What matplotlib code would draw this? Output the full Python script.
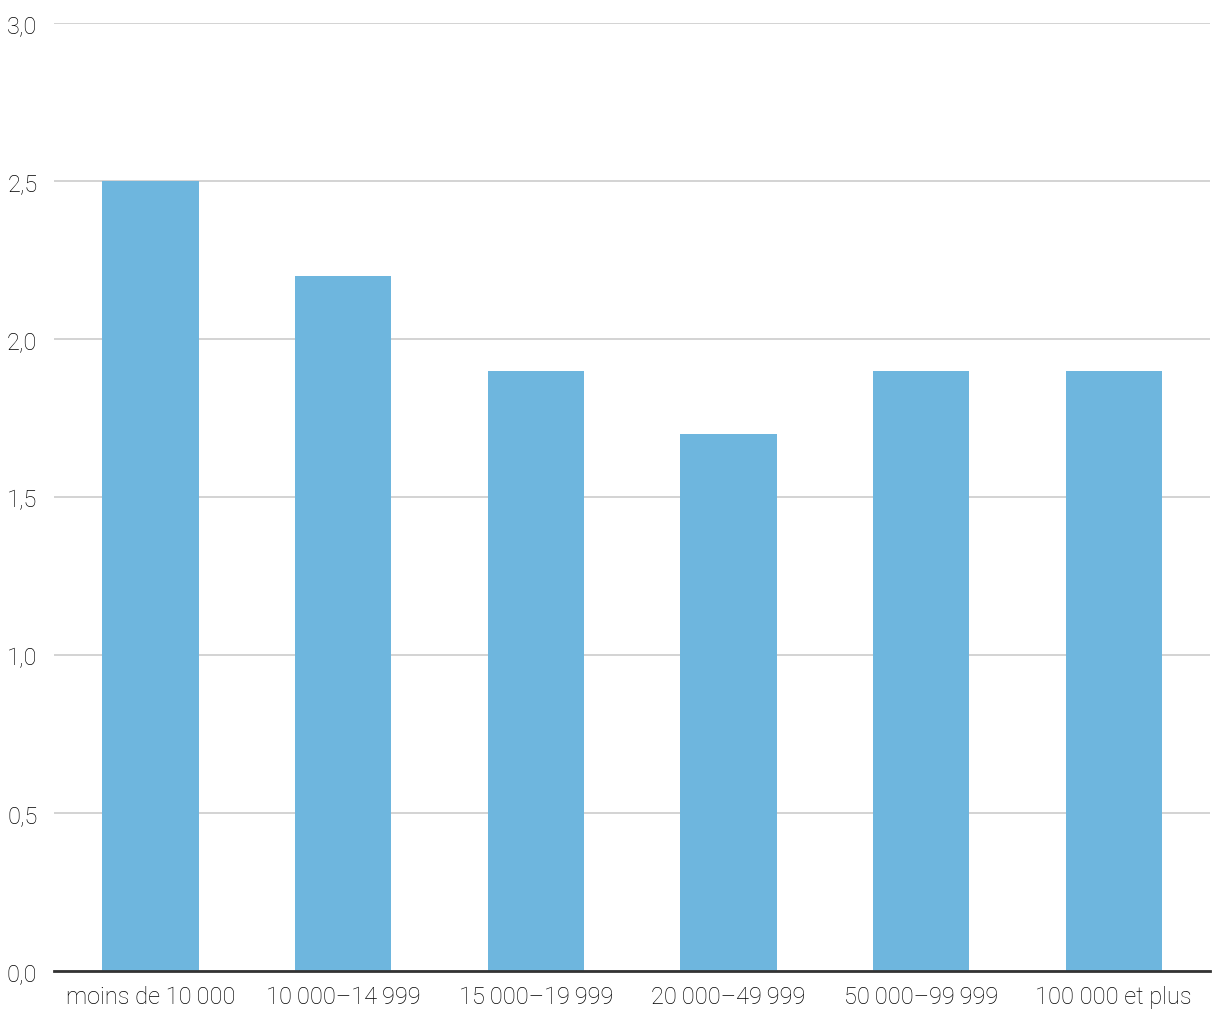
import matplotlib.pyplot as plt
from matplotlib.ticker import FuncFormatter

# categories and values
categories = ['moins de 10\u2009000', '10\u2009000\u201314\u2009999', '15\u2009000\u201319\u2009999',
              '20\u2009000\u201349\u2009999', '50\u2009000\u201399\u2009999', '100 000 et plus']
values = [2.5, 2.2, 1.9, 1.7, 1.9, 1.9]
y_ticks = [0, 0.5, 1.0, 1.5, 2.0, 2.5, 3.0]

plt.rcParams['font.family'] = ['Roboto', 'DejaVu Sans']
plt.rcParams['font.weight'] = 'light'

fig = plt.figure(figsize=(12.2, 10.2), dpi=100)
ax = fig.add_axes([0.0443, 0.0471, 0.9475, 0.9294])

x = range(len(categories))
ax.bar(x, values, width=0.5, color='#6eb6de', zorder=2)

ax.set_xlim(-0.5, len(categories) - 0.5)
ax.set_ylim(0, 3.0)
ax.set_yticks(y_ticks)
ax.yaxis.set_major_formatter(FuncFormatter(lambda v, p: f'{v:.1f}'.replace('.', ',')))
ax.set_xticks(list(x))
ax.set_xticklabels(categories)

ax.grid(axis='y', color='#cccccc', linewidth=1.2, zorder=0)
for s in ['top', 'right', 'left']:
    ax.spines[s].set_visible(False)
ax.spines['bottom'].set_color('#333333')
ax.spines['bottom'].set_linewidth(2)
ax.spines['bottom'].set_zorder(3)

ax.tick_params(axis='both', length=0, labelsize=17, labelcolor='#000000')
ax.tick_params(axis='x', pad=10)
ax.tick_params(axis='y', pad=12)

fig.savefig('out.png', dpi=100)
